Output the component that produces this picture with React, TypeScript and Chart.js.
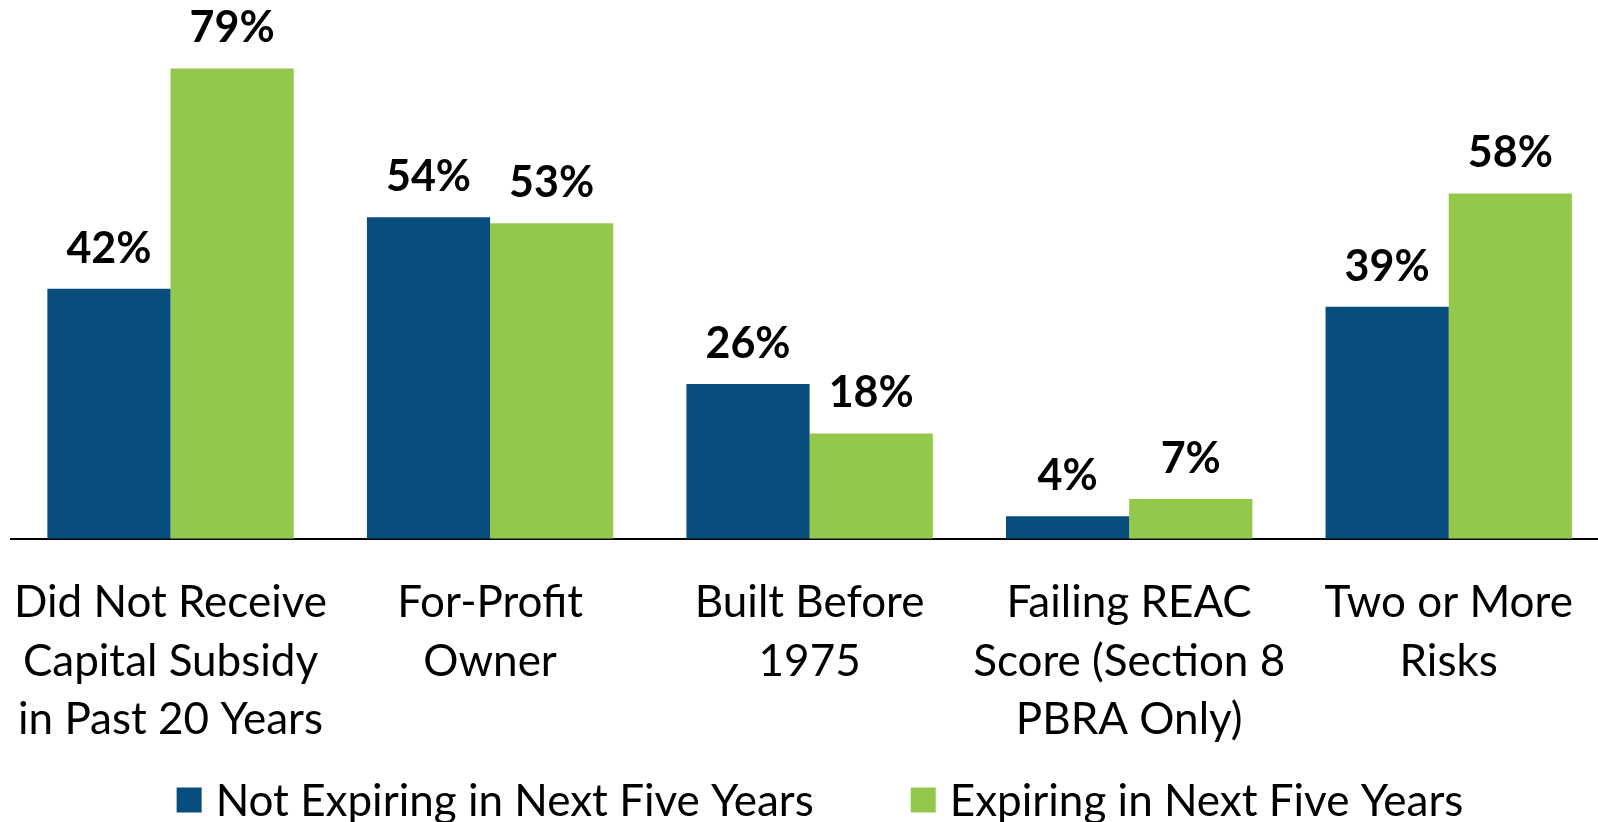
import React, { useEffect, useRef } from 'react';
import { Chart, registerables } from 'chart.js';

Chart.register(...registerables);

const categories: string[][] = [
  ['Did Not Receive', 'Capital Subsidy', 'in Past 20 Years'],
  ['For-Profit', 'Owner'],
  ['Built Before', '1975'],
  ['Failing REAC', 'Score (Section 8', 'PBRA Only)'],
  ['Two or More', 'Risks'],
];
const seriesNames = ['Not Expiring in Next Five Years', 'Expiring in Next Five Years'];
const notExpiring = [42, 54, 26, 3.8, 39];
const expiring = [79, 53, 17.7, 6.7, 58];
const seriesColors = ['#074D7D', '#94C84A'];
const yMax = 89;

const FONT = 'Lato, "Open Sans", sans-serif';
const SHIFT = 22;

const valueLabelPlugin = {
  id: 'valueLabels',
  afterDatasetsDraw(chart: any) {
    const ctx = chart.ctx;
    ctx.save();
    ctx.font = `bold 43px ${FONT}`;
    ctx.fillStyle = '#000';
    ctx.textAlign = 'center';
    ctx.textBaseline = 'middle';
    chart.data.datasets.forEach((ds: any, di: number) => {
      const meta = chart.getDatasetMeta(di);
      meta.data.forEach((bar: any, i: number) => {
        const v = ds.data[i] as number;
        ctx.fillText(`${Math.round(v)}%`, bar.x, bar.y - 40);
      });
    });
    ctx.restore();
  },
};

const legendPlugin = {
  id: 'customLegend',
  afterDraw(chart: any) {
    const ctx = chart.ctx;
    ctx.save();
    ctx.font = `44px ${FONT}`;
    ctx.textBaseline = 'middle';
    ctx.textAlign = 'left';
    const box = 25;
    const gapText = 14;
    const gapItem = 97;
    const ds = chart.data.datasets;
    const widths = ds.map((d: any) => ctx.measureText(d.label).width);
    const total =
      widths.reduce((s: number, w: number) => s + box + gapText + w, 0) + gapItem * (ds.length - 1);
    let x = 820 + SHIFT - total / 2;
    const y = chart.height - 22;
    ds.forEach((d: any, i: number) => {
      ctx.fillStyle = d.backgroundColor;
      ctx.fillRect(x, y - box / 2, box, box);
      ctx.fillStyle = '#000';
      ctx.fillText(d.label, x + box + gapText, y + 2);
      x += box + gapText + widths[i] + gapItem;
    });
    ctx.restore();
  },
};

export default function App() {
  const ref = useRef<HTMLCanvasElement>(null);

  useEffect(() => {
    let chart: Chart | null = null;
    let cancelled = false;
    const make = () => {
      if (cancelled || !ref.current) return;
      chart = new Chart(ref.current, {
        type: 'bar',
        data: {
          labels: categories,
          datasets: [
            {
              label: seriesNames[0],
              data: notExpiring,
              backgroundColor: seriesColors[0],
              categoryPercentage: 0.771,
              barPercentage: 1.0,
            },
            {
              label: seriesNames[1],
              data: expiring,
              backgroundColor: seriesColors[1],
              categoryPercentage: 0.771,
              barPercentage: 1.0,
            },
          ],
        },
        options: {
          responsive: false,
          animation: false,
          devicePixelRatio: 1,
          layout: { padding: { top: 9, left: 10, right: 3.5, bottom: 37.4 } },
          plugins: {
            legend: { display: false },
            tooltip: { enabled: false },
          },
          scales: {
            x: {
              grid: { display: true, drawOnChartArea: false, drawTicks: false },
              border: { display: true, color: '#000', width: 2 },
              ticks: {
                color: '#000',
                padding: 35,
                maxRotation: 0,
                autoSkip: false,
                font: { family: FONT, size: 44, lineHeight: '58.6px' },
              },
            },
            y: {
              display: false,
              min: 0,
              max: yMax,
            },
          },
        },
        plugins: [valueLabelPlugin, legendPlugin],
      });
    };
    Promise.all([
      document.fonts.load(`44px Lato`),
      document.fonts.load(`bold 43px Lato`),
    ])
      .catch(() => null)
      .then(make);
    return () => {
      cancelled = true;
      if (chart) chart.destroy();
    };
  }, []);

  return (
    <div
      style={{
        position: 'fixed',
        left: 0,
        top: 0,
        width: 1598,
        height: 822,
        overflow: 'hidden',
        background: '#fff',
      }}
    >
      <canvas
        ref={ref}
        width={1612 + SHIFT}
        height={822}
        style={{ display: 'block', marginLeft: -SHIFT }}
      />
    </div>
  );
}
